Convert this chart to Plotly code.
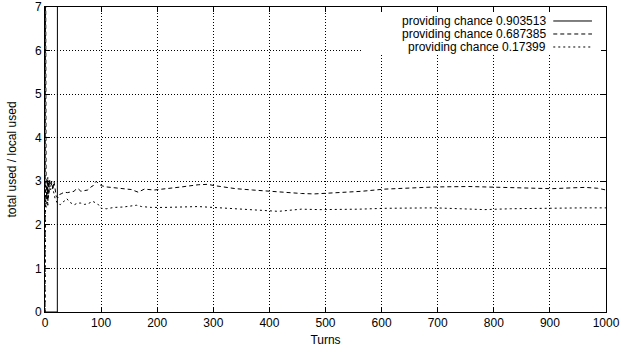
import plotly.graph_objects as go

# ---- data ----
names = ["providing chance 0.903513", "providing chance 0.687385", "providing chance 0.17399"]

solid_turns = [0, 22, 23, 1000]
solid_vals = [0, 0, 50, 50]

dashed_turns = [0, 1, 2, 3, 4, 5, 6, 7, 8, 10, 12, 14, 16, 18, 20, 23, 25, 30, 34, 40, 45, 52, 55, 59,
                64, 70, 76, 82, 86, 91, 95, 100, 110, 123, 140, 154, 166, 177, 195, 213, 243, 273,
                290, 302, 327, 340, 370, 398, 430, 457, 480, 505, 535, 564, 605, 650, 695, 755, 802,
                850, 873, 904, 940, 963, 985, 1000]
dashed_vals = [0, 9, 3.0, 2.6, 3.05, 2.45, 3.0, 2.7, 3.05, 2.9, 3.0, 2.8, 3.0, 2.75, 2.65, 2.62, 2.69,
               2.72, 2.75, 2.74, 2.76, 2.77, 2.82, 2.83, 2.77, 2.78, 2.8, 2.87, 2.9, 3.0, 2.95, 2.9,
               2.87, 2.85, 2.83, 2.81, 2.75, 2.82, 2.8, 2.82, 2.87, 2.92, 2.93, 2.9, 2.85, 2.83, 2.8,
               2.77, 2.75, 2.72, 2.71, 2.73, 2.75, 2.77, 2.82, 2.85, 2.87, 2.88, 2.86, 2.85, 2.83,
               2.83, 2.85, 2.86, 2.84, 2.8]

dotted_turns = [0, 1, 2, 3, 4, 5, 6, 8, 10, 12, 15, 18, 22, 27, 31, 34, 39, 44, 52, 58, 64, 70, 76, 85,
                94, 100, 110, 123, 140, 154, 163, 172, 190, 213, 240, 273, 300, 327, 337, 370, 398,
                416, 440, 457, 490, 516, 560, 605, 650, 695, 740, 784, 830, 873, 920, 960, 1000]
dotted_vals = [0, 3.0, 2.4, 2.9, 2.5, 3.1, 2.6, 3.0, 2.8, 2.95, 2.75, 2.6, 2.5, 2.46, 2.52, 2.54, 2.6,
               2.52, 2.46, 2.5, 2.5, 2.47, 2.48, 2.54, 2.48, 2.38, 2.37, 2.4, 2.41, 2.43, 2.45, 2.42,
               2.4, 2.4, 2.41, 2.42, 2.4, 2.38, 2.36, 2.35, 2.32, 2.31, 2.34, 2.36, 2.35, 2.35, 2.36,
               2.38, 2.38, 2.39, 2.37, 2.35, 2.37, 2.38, 2.38, 2.39, 2.39]

x_ticks = list(range(0, 1001, 100))
y_ticks = list(range(0, 8))

dashes = ["solid", "4px,3px", "2px,3px"]
series = [(solid_turns, solid_vals), (dashed_turns, dashed_vals), (dotted_turns, dotted_vals)]

FONT = "Liberation Sans, Arial, sans-serif"
FS = 12

fig = go.Figure()
for (xs, ys), nm, d in zip(series, names, dashes):
    fig.add_trace(go.Scatter(x=xs, y=ys, mode="lines", name=nm,
                             line=dict(color="black", width=1, dash=d),
                             showlegend=False, hoverinfo="skip"))

# gnuplot-style key: white box, right-aligned text, line sample on the right
fig.add_shape(type="rect", xref="x", yref="y", x0=565, x1=1000, y0=5.93, y1=7,
              fillcolor="white", line=dict(width=0), layer="between")
row_y = [0.9541, 0.9115, 0.8689]
for nm, d, yy in zip(names, dashes, row_y):
    fig.add_annotation(x=0.896, y=yy, xref="paper", yref="paper", text=nm, showarrow=False,
                       xanchor="right", yanchor="middle", font=dict(family=FONT, size=FS, color="black"))
    fig.add_shape(type="line", xref="paper", yref="paper", x0=0.906, x1=0.975, y0=yy, y1=yy,
                  line=dict(color="black", width=1, dash=d), layer="above")

axis_common = dict(showline=True, linecolor="black", linewidth=1, mirror="ticks",
                   ticks="inside", ticklen=5, tickcolor="black", tickwidth=1,
                   showgrid=True, gridcolor="black", gridwidth=1, griddash="1px,2px",
                   zeroline=False, automargin=False,
                   tickfont=dict(family=FONT, size=FS, color="black"))

fig.update_xaxes(range=[0, 1000], tickvals=x_ticks, title=dict(text="Turns", standoff=6,
                 font=dict(family=FONT, size=FS, color="black")), **axis_common)
fig.update_yaxes(range=[0, 7], tickvals=y_ticks, title=dict(text="total used / local used", standoff=15,
                 font=dict(family=FONT, size=FS, color="black")), **axis_common)

fig.update_layout(width=632, height=354, margin=dict(l=45, r=26, t=7, b=42),
                  plot_bgcolor="white", paper_bgcolor="white",
                  font=dict(family=FONT, size=FS, color="black"))

fig.write_html("out.html", config={"displayModeBar": False},
               post_script="document.body.style.margin='0';")
